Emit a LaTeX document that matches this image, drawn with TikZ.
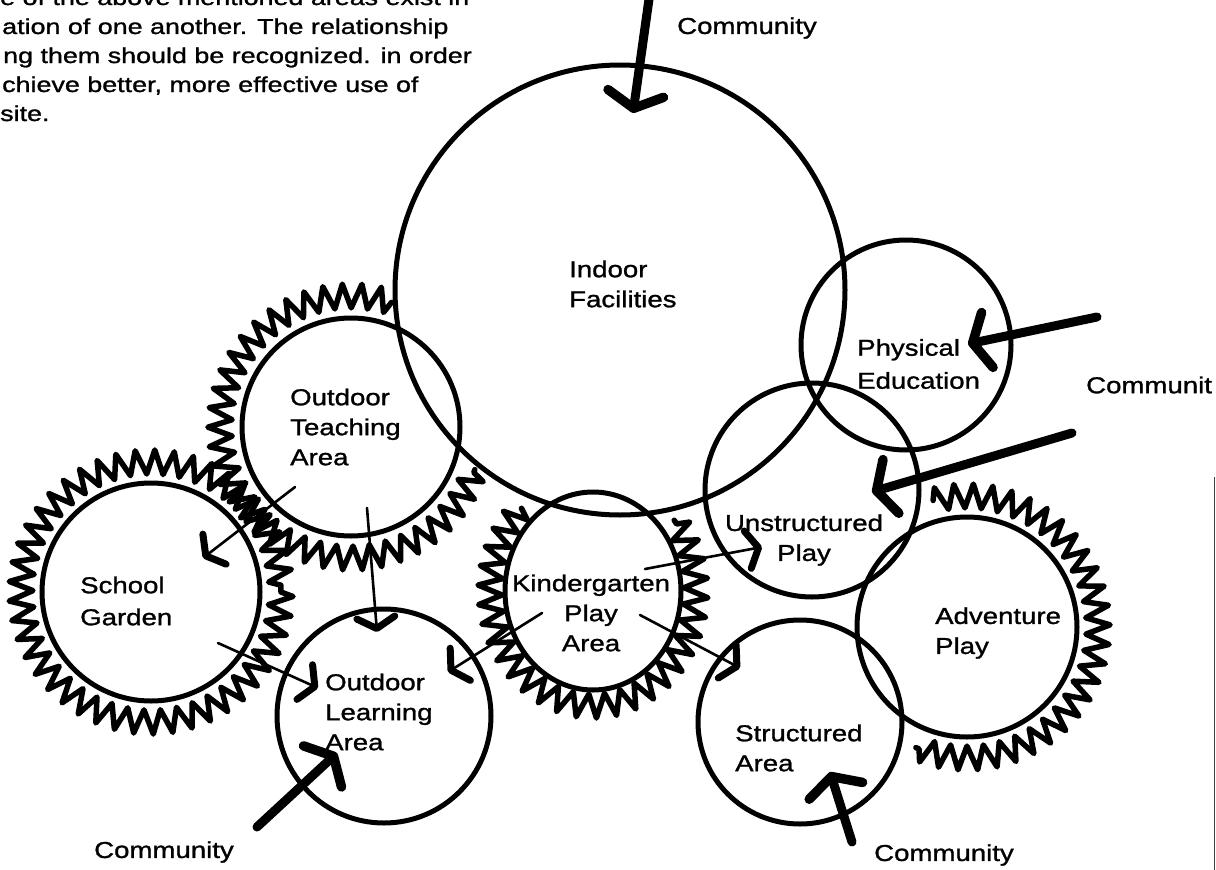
\documentclass[tikz,border=0pt]{standalone}
\usepackage{fontspec}
\setmainfont{Liberation Sans}
\newfontfamily\lblfont{Liberation Sans}[FakeStretch=1.2,FakeBold=1.2]
\newfontfamily\parfont{Liberation Sans}[FakeStretch=1.25,FakeBold=1.2]
\usetikzlibrary{arrows.meta,decorations.pathmorphing,shapes.geometric}
\begin{document}
\begin{tikzpicture}[x=1pt,y=-1pt,
  area/.style={draw, circle, line width=5pt, inner sep=0pt},
  zz/.style={draw, line width=5.5pt, line join=round, line cap=round, decorate,
    decoration={zigzag, segment length=18pt, amplitude=12pt}},
  comm/.style={line width=9pt, line cap=round,
    -{Straight Barb[round, length=15pt, width=56pt, line width=9.5pt]}},
  thinarrow/.style={line width=2.6pt, line cap=round,
    -{Straight Barb[round, length=11pt, width=38pt, line width=7pt]}},
  lbl/.style={font={\lblfont\fontsize{23}{30}\selectfont}, align=left, inner sep=0pt, anchor=west},
  clbl/.style={font={\lblfont\fontsize{23}{30}\selectfont}, align=center, inner sep=0pt},
  para/.style={font={\parfont\fontsize{21.5}{29}\selectfont}, inner sep=0pt, anchor=base west},
]
\useasboundingbox (0,0) rectangle (1216,870);

% paragraph (cut off at the left and top, as in the source)
\node[para] (p1) at (0,5) {e of the above mentioned areas exist in};
\node[para] (p2) at (2,34) {ation of one another. The relationship};
\node[para] (p3) at (3,63) {ng them should be recognized. in order};
\node[para] (p4) at (2,92) {chieve better, more effective use of};
\node[para] (p5) at (0,121) {site.};

% zigzag (planting) rings
\draw[zz] (351,427) ++(-72:131) arc[start angle=-72, end angle=-341, radius=131];
\draw[zz] (151,592) circle[radius=130];
\draw[zz] (593,591) ++(226:103 and 115) arc[start angle=226, end angle=-38, x radius=103, y radius=115];
\draw[zz] (967,627) ++(-105:131) arc[start angle=-105, end angle=113, radius=131];

% areas
\node[area, minimum size=450pt] (indoor) at (620,290) {};
\node[area, minimum size=210pt] (phys) at (906,345) {};
\node[area, minimum size=214pt] (unstr) at (812,490) {};
\node[area, minimum size=220pt] (adv) at (967,627) {};
\node[area, minimum size=204pt] (struct) at (800,722) {};
\node[draw, ellipse, line width=5pt, inner sep=0pt, minimum width=176pt, minimum height=198pt] (kinder) at (593,591) {};
\node[area, minimum size=218pt] (teach) at (351,427) {};
\node[area, minimum size=218pt] (garden) at (151,592) {};
\node[area, minimum size=214pt] (learn) at (384,716) {};

% labels
\node[lbl] (indoorL) at (569,284) {Indoor\\Facilities};
\node[lbl, font={\lblfont\fontsize{23}{33}\selectfont}] (physL) at (857,364) {Physical\\Education};
\node[lbl] (teachL) at (290,427) {Outdoor\\Teaching\\Area};
\node[lbl, font={\lblfont\fontsize{23}{32}\selectfont}] (gardenL) at (80,601) {School\\Garden};
\node[lbl] (learnL) at (325,712) {Outdoor\\Learning\\Area};
\node[clbl] (kinderL) at (591,613) {Kindergarten\\Play\\Area};
\node[clbl] (unstrL) at (804,540) {Unstructured\\Play};
\node[lbl] (advL) at (935,633) {Adventure\\Play};
\node[lbl] (structL) at (735,748) {Structured\\Area};

\node[clbl] (cTop) at (747,28) {Community};
\node[lbl] (cRight) at (1086,385) {Communit};
\node[clbl] (cBL) at (164,852) {Community};
\node[clbl] (cBR) at (944,855) {Community};

% community arrows
\coordinate (a1s) at (650,-8);   \coordinate (a1e) at (633,113);
\coordinate (a2s) at (1097,317); \coordinate (a2e) at (968,344);
\coordinate (a3s) at (1072,433); \coordinate (a3e) at (872,492);
\coordinate (a4s) at (257,827);  \coordinate (a4e) at (337,753);
\coordinate (a5s) at (852,842);  \coordinate (a5e) at (830,772);
\draw[comm] (a1s) -- (a1e);
\draw[comm] (a2s) -- (a2e);
\draw[comm] (a3s) -- (a3e);
\draw[comm] (a4s) -- (a4e);
\draw[comm] (a5s) -- (a5e);

% relationship arrows
\coordinate (b1s) at (295,487); \coordinate (b1e) at (203,558);
\coordinate (b2s) at (367,508); \coordinate (b2e) at (377,632);
\coordinate (b3s) at (218,643); \coordinate (b3e) at (318,688);
\coordinate (b4s) at (542,613); \coordinate (b4e) at (448,672);
\coordinate (b5s) at (645,569); \coordinate (b5e) at (762,547);
\coordinate (b6s) at (640,615); \coordinate (b6e) at (740,668);
\draw[thinarrow] (b1s) -- (b1e);
\draw[thinarrow] (b2s) -- (b2e);
\draw[thinarrow] (b3s) -- (b3e);
\draw[thinarrow] (b4s) -- (b4e);
\draw[thinarrow] (b5s) -- (b5e);
\draw[thinarrow] (b6s) -- (b6e);

% scan edge at the right
\coordinate (e1) at (1214.5,477); \coordinate (e2) at (1214.5,870);
\draw[line width=1.8pt, black!75] (e1) -- (e2);
\end{tikzpicture}
\end{document}
